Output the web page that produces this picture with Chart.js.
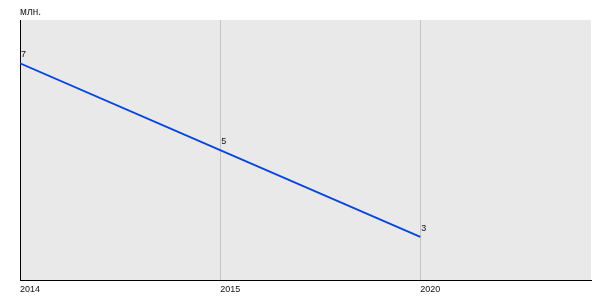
<!DOCTYPE html>
<html>
<head>
<meta charset="utf-8">
<script src="https://cdn.jsdelivr.net/npm/chart.js@4"></script>
<style>
  html, body { margin: 0; padding: 0; background: #fff; }
  #wrap { width: 600px; height: 300px; }
</style>
</head>
<body>
<div id="wrap"><canvas id="myChart"></canvas></div>
<script>
const years = ["2014", "2015", "2020"];
const values = [7, 5, 3];
const unitLabel = "млн.";

const fontFamily = "'Liberation Sans', Arial, sans-serif";

// gray plot background + unit label + point labels
const decorations = {
  id: "decorations",
  beforeDraw(chart) {
    const { ctx, chartArea } = chart;
    ctx.save();
    ctx.fillStyle = "#e9e9e9";
    ctx.fillRect(chartArea.left, chartArea.top, chartArea.right - chartArea.left, chartArea.bottom - chartArea.top);
    ctx.fillStyle = "#222";
    ctx.font = "10px " + fontFamily;
    ctx.textBaseline = "alphabetic";
    ctx.fillText(unitLabel, chartArea.left, chartArea.top - 5);
    ctx.restore();
  },
  afterDatasetsDraw(chart) {
    const { ctx } = chart;
    const meta = chart.getDatasetMeta(0);
    ctx.save();
    ctx.fillStyle = "#111";
    ctx.font = "9px " + fontFamily;
    ctx.textBaseline = "alphabetic";
    meta.data.forEach((pt, i) => {
      ctx.fillText(String(values[i]), pt.x + 1, pt.y - 6);
    });
    ctx.restore();
  },
};

function createChart() {
  let ctx = document.getElementById("myChart").getContext("2d");
  let points = values.map((v, i) => ({ x: i, y: v }));
  new Chart(ctx, {
    type: "line",
    data: {
      datasets: [
        {
          data: points,
          borderColor: "#0645e2",
          borderWidth: 1.8,
          pointRadius: 0,
          fill: false,
          tension: 0,
        },
      ],
    },
    options: {
      responsive: true,
      maintainAspectRatio: false,
      animation: false,
      layout: { padding: { left: 20, right: 9, top: 20, bottom: 1 } },
      plugins: { legend: { display: false }, tooltip: { enabled: false } },
      scales: {
        x: {
          type: "linear",
          min: 0,
          max: 2.853,
          afterBuildTicks: (s) => {
            s.ticks = years.map((_, i) => ({ value: i }));
          },
          ticks: {
            align: "start",
            maxRotation: 0,
            padding: 4,
            color: "#111",
            font: { size: 9, family: fontFamily },
            callback: (v) => years[v],
          },
          grid: { color: "#c4c4c4", lineWidth: 1, drawTicks: false },
          border: { display: true, color: "#000", width: 1 },
        },
        y: {
          min: 2,
          max: 8,
          ticks: { display: false },
          grid: { display: false, drawTicks: false },
          border: { display: true, color: "#000", width: 1 },
        },
      },
    },
    plugins: [decorations],
  });
}

createChart();
</script>
</body>
</html>
